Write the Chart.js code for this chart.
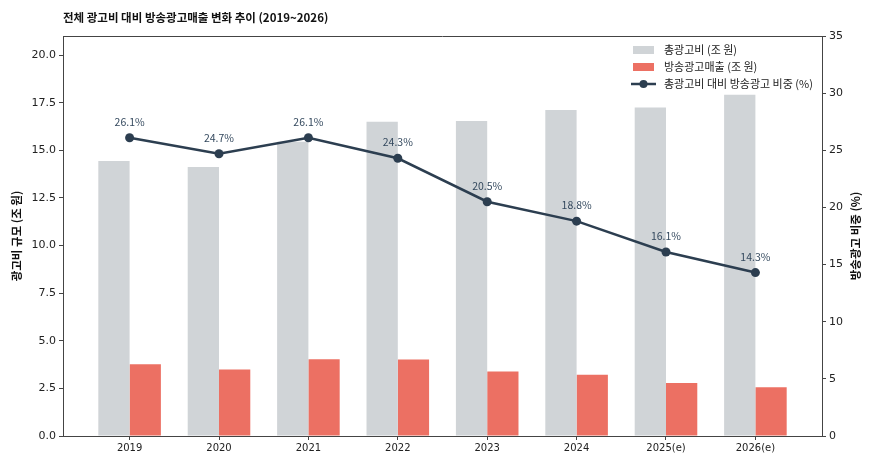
<!DOCTYPE html>
<html>
<head>
<meta charset="utf-8">
<script src="https://cdn.jsdelivr.net/npm/chart.js@4/dist/chart.umd.min.js"></script>
<style>
  html, body { margin: 0; padding: 0; background: #fff; }
  #wrap { width: 870px; height: 462px; }
</style>
</head>
<body>
<div id="wrap"><canvas id="chart" width="870" height="462"></canvas></div>
<script>
// --- dados ---
const years = ['2019', '2020', '2021', '2022', '2023', '2024', '2025(e)', '2026(e)'];
const totalAdSpend = [14.44, 14.12, 15.45, 16.5, 16.54, 17.11, 17.25, 17.92];
const broadcastAdSales = [3.77, 3.49, 4.03, 4.01, 3.39, 3.22, 2.78, 2.56];
const broadcastShare = [26.1, 24.7, 26.1, 24.3, 20.5, 18.8, 16.1, 14.3];
const leftTicks = [0, 2.5, 5, 7.5, 10, 12.5, 15, 17.5, 20];

const FONT = "'Noto Sans CJK KR', 'Noto Sans', sans-serif";
const NUM_FONT = "'DejaVu Sans', sans-serif";
const GRAY = '#d0d4d7';
const RED = '#ec7063';
const NAVY = '#2c3e50';
const AXIS = '#444';

// pontos {x: indice, y: valor} para o eixo x linear
const toPoints = arr => arr.map((v, i) => ({ x: i, y: v }));

// titulo, legenda, rotulos da linha e titulo do eixo direito
const overlay = {
    id: 'overlay',
    afterDatasetsDraw(chart) {
        const { ctx, chartArea: a } = chart;
        ctx.save();

        // borda de cima
        ctx.strokeStyle = AXIS;
        ctx.lineWidth = 1;
        ctx.beginPath();
        ctx.moveTo(a.left, a.top + 0.5);
        ctx.lineTo(a.right, a.top + 0.5);
        ctx.stroke();

        // rotulos dos pontos
        const meta = chart.getDatasetMeta(2);
        ctx.fillStyle = '#34495e';
        ctx.font = `10.5px ${FONT}`;
        ctx.textAlign = 'center';
        ctx.textBaseline = 'middle';
        meta.data.forEach((pt, i) => {
            ctx.fillText(broadcastShare[i].toFixed(1) + '%', pt.x, pt.y - 16);
        });

        // legenda
        const lx = a.right - 189;
        const rows = [a.top + 14, a.top + 31, a.top + 48];
        ctx.textAlign = 'left';
        ctx.font = `11px ${FONT}`;
        ctx.fillStyle = GRAY;
        ctx.fillRect(lx, rows[0] - 4, 21, 8);
        ctx.fillStyle = RED;
        ctx.fillRect(lx, rows[1] - 4, 21, 8);
        ctx.strokeStyle = NAVY;
        ctx.lineWidth = 2.5;
        ctx.beginPath();
        ctx.moveTo(lx - 2, rows[2]);
        ctx.lineTo(lx + 23, rows[2]);
        ctx.stroke();
        ctx.fillStyle = NAVY;
        ctx.beginPath();
        ctx.arc(lx + 10.5, rows[2], 4, 0, Math.PI * 2);
        ctx.fill();
        ctx.fillStyle = '#222';
        ctx.fillText('총광고비 (조 원)', lx + 31, rows[0]);
        ctx.fillText('방송광고매출 (조 원)', lx + 31, rows[1]);
        ctx.fillText('총광고비 대비 방송광고 비중 (%)', lx + 31, rows[2]);

        // titulo do eixo direito
        ctx.save();
        ctx.translate(856, (a.top + a.bottom) / 2);
        ctx.rotate(-Math.PI / 2);
        ctx.textAlign = 'center';
        ctx.fillStyle = '#111';
        ctx.font = `bold 11.5px ${FONT}`;
        ctx.fillText('방송광고 비중 (%)', 0, 0);
        ctx.restore();

        // titulo
        ctx.textAlign = 'left';
        ctx.font = `bold 11.5px ${FONT}`;
        ctx.fillStyle = '#111';
        ctx.fillText('전체 광고비 대비 방송광고매출 변화 추이 (2019~2026)', a.left, 18);

        ctx.restore();
    }
};

new Chart(document.getElementById('chart'), {
    type: 'bar',
    data: {
        datasets: [
            {
                label: '총광고비 (조 원)',
                data: toPoints(totalAdSpend),
                backgroundColor: GRAY,
                yAxisID: 'y',
                categoryPercentage: 0.7,
                barPercentage: 1.0,
                order: 1
            },
            {
                label: '방송광고매출 (조 원)',
                data: toPoints(broadcastAdSales),
                backgroundColor: RED,
                yAxisID: 'y',
                categoryPercentage: 0.7,
                barPercentage: 1.0,
                order: 2
            },
            {
                type: 'line',
                label: '총광고비 대비 방송광고 비중 (%)',
                data: toPoints(broadcastShare),
                borderColor: NAVY,
                backgroundColor: NAVY,
                borderWidth: 2.5,
                pointRadius: 4.5,
                pointBackgroundColor: NAVY,
                pointBorderWidth: 0,
                tension: 0,
                yAxisID: 'y1',
                order: 0
            }
        ]
    },
    options: {
        responsive: false,
        animation: false,
        layout: { padding: { top: 36, right: 0, bottom: 0, left: 0 } },
        plugins: {
            legend: { display: false },
            tooltip: { enabled: false }
        },
        scales: {
            x: {
                type: 'linear',
                min: -0.745,
                max: years.length - 1 + 0.745,
                offset: false,
                afterBuildTicks: s => { s.ticks = years.map((_, i) => ({ value: i })); },
                grid: { offset: false, drawOnChartArea: false, tickLength: 4, color: AXIS },
                border: { display: true, color: AXIS, width: 1 },
                ticks: {
                    color: '#222',
                    font: { family: NUM_FONT, size: 10 },
                    padding: 2,
                    maxRotation: 0,
                    callback: v => years[v] ?? ''
                },
                afterFit: s => { s.height = 26; }
            },
            y: {
                position: 'left',
                min: 0,
                max: 21,
                afterBuildTicks: s => { s.ticks = leftTicks.map(v => ({ value: v })); },
                grid: { drawOnChartArea: false, tickLength: 4, color: AXIS },
                border: { display: true, color: AXIS, width: 1 },
                ticks: {
                    color: '#222',
                    font: { family: NUM_FONT, size: 11 },
                    padding: 3,
                    callback: v => Number(v).toFixed(1)
                },
                title: {
                    display: true,
                    text: '광고비 규모 (조 원)',
                    color: '#111',
                    font: { family: FONT, size: 11.5, weight: 'bold' },
                    padding: { top: 10, bottom: 0 }
                },
                afterFit: s => { s.width = 63; }
            },
            y1: {
                position: 'right',
                min: 0,
                max: 35,
                ticks: {
                    stepSize: 5,
                    color: '#222',
                    font: { family: NUM_FONT, size: 11 },
                    padding: 3
                },
                grid: { drawOnChartArea: false, tickLength: 4, color: AXIS },
                border: { display: true, color: AXIS, width: 1 },
                afterFit: s => { s.width = 48; }
            }
        }
    },
    plugins: [overlay]
});
</script>
</body>
</html>
